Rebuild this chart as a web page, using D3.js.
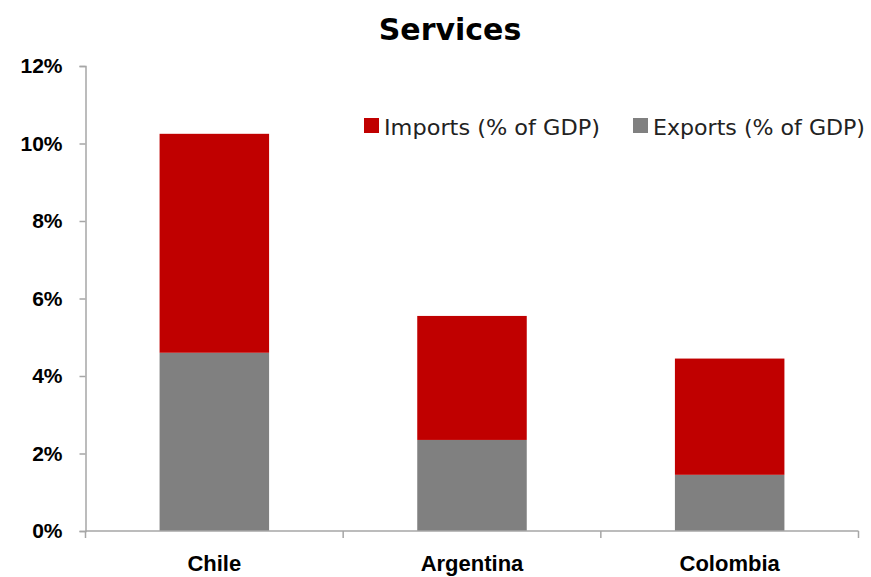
<!DOCTYPE html>
<html><head><meta charset="utf-8">
<script src="https://cdn.jsdelivr.net/npm/d3@7"></script>
<style>body{margin:0;background:#fff}</style>
</head><body>
<svg id="c" width="871" height="577"></svg>
<script>
const categories = ["Chile", "Argentina", "Colombia"];
const exportsVals = [4.6, 2.35, 1.45];
const importsVals = [5.65, 3.2, 3.0];
const yTicks = [0, 2, 4, 6, 8, 10, 12];
const seriesNames = ["Imports (% of GDP)", "Exports (% of GDP)"];
const colors = {imports: "#c00000", exports: "#808080"};

const svg = d3.select("#c");
const mLeft = 85.5, mRight = 858.5, mTop = 66, mBottom = 531;
const x = d3.scaleBand().domain(categories).range([mLeft, mRight]).paddingInner(0.575).paddingOuter(0.2875);
const y = d3.scaleLinear().domain([0, 12]).range([mBottom, mTop]);

const data = categories.map((c, i) => ({cat: c, exports: exportsVals[i], imports: importsVals[i]}));
const stack = d3.stack().keys(["exports", "imports"])(data);

svg.append("g").selectAll("g").data(stack).join("g")
  .attr("fill", d => colors[d.key])
  .selectAll("rect").data(d => d).join("rect")
  .attr("x", d => x(d.data.cat))
  .attr("width", x.bandwidth())
  .attr("y", d => y(d[1]))
  .attr("height", d => y(d[0]) - y(d[1]));

// y axis
const ya = svg.append("g").attr("transform", `translate(${mLeft},0)`)
  .call(d3.axisLeft(y).tickValues(yTicks).tickFormat(d => d + "%").tickSize(6).tickSizeOuter(6).tickPadding(17));
ya.select(".domain").attr("stroke", "#a6a6a6").attr("stroke-width", 1.5);
ya.selectAll(".tick line").attr("stroke", "#a6a6a6").attr("stroke-width", 1.5);
ya.selectAll(".tick text").attr("font-family", "Liberation Sans, Arial, sans-serif").attr("font-weight", "bold").attr("font-size", 21).attr("fill", "#000");

// x axis
const xa = svg.append("g").attr("transform", `translate(0,${mBottom})`);
xa.append("line").attr("x1", mLeft).attr("x2", mRight).attr("y1", 0).attr("y2", 0).attr("stroke", "#a6a6a6").attr("stroke-width", 1.5);
const bounds = d3.range(categories.length + 1).map(i => mLeft + i * (mRight - mLeft) / categories.length);
xa.selectAll("line.t").data(bounds).join("line").attr("class", "t")
  .attr("x1", d => d).attr("x2", d => d).attr("y1", 0).attr("y2", 7)
  .attr("stroke", "#a6a6a6").attr("stroke-width", 1.5);
xa.selectAll("text").data(categories).join("text")
  .attr("x", d => x(d) + x.bandwidth() / 2).attr("y", 40)
  .attr("text-anchor", "middle")
  .attr("font-family", "Liberation Sans Narrow, Liberation Sans, Arial, sans-serif")
  .attr("font-weight", "bold").attr("font-size", 22).attr("fill", "#000")
  .text(d => d);

// title
svg.append("text").attr("x", 450).attr("y", 40).attr("text-anchor", "middle")
  .attr("font-family", "DejaVu Sans, sans-serif").attr("font-weight", "bold").attr("font-size", 30)
  .attr("fill", "#000").text("Services");

// legend
const leg = svg.append("g").attr("font-family", "DejaVu Sans, sans-serif").attr("font-size", 21).attr("fill", "#222");
const legItems = [
  {name: seriesNames[0], color: colors.imports, x: 364, w: 216},
  {name: seriesNames[1], color: colors.exports, x: 633, w: 212}
];
legItems.forEach(it => {
  leg.append("rect").attr("x", it.x).attr("y", 118).attr("width", 15).attr("height", 15).attr("fill", it.color);
  leg.append("text").attr("x", it.x + 20).attr("y", 135)
    .attr("textLength", it.w).attr("lengthAdjust", "spacingAndGlyphs").text(it.name);
});
</script>
</body></html>
